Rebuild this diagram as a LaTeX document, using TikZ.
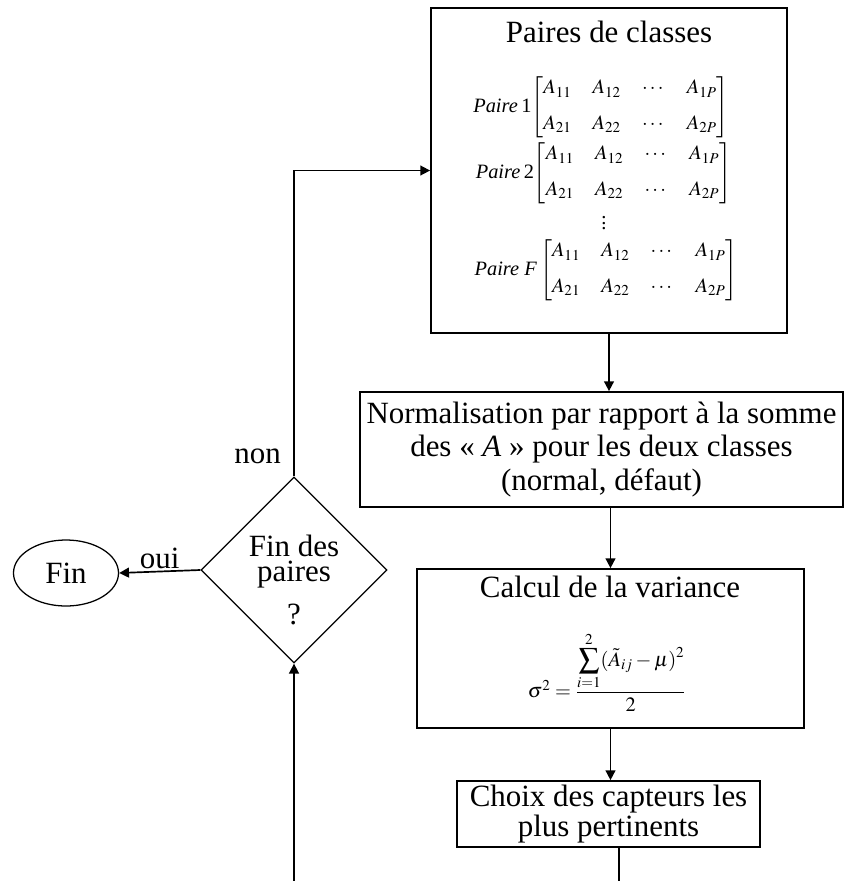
\documentclass[tikz,border=0pt]{standalone}
\usepackage{amsmath}
\usepackage{mathptmx}
\usepackage[no-math]{fontspec}
\setmainfont{Liberation Serif}
\usetikzlibrary{positioning,arrows.meta,calc,shapes.geometric}

\begin{document}
\begin{tikzpicture}[
  x=0.025cm, y=-0.025cm,
  every node/.style={font=\fontsize{22}{24}\selectfont, inner sep=0pt},
  %% framed process block  \node[blk={width}{height}]{...}
  blk/.style 2 args={
    draw, line width=1.2pt,
    minimum width=#1, minimum height=#2,
    align=center
  },
  %% small math inside the blocks
  mat/.style={font=\fontsize{14.5}{16}\selectfont},
  %% connectors
  arr/.style={-{Triangle[length=7pt,width=7pt]}, line width=1.2pt},
  lnk/.style={line width=1.2pt},
]
\useasboundingbox (0,0) rectangle (844,881);

%%── Paires de classes ────────────────────────────────────────────────────────
\node[blk={8.9cm}{8.125cm}] (pc) at (609,170.5) {};
\node (pct) at (609,32) {Paires de classes};

\node[mat] (m1) at (601,107)
  {{\itshape Paire}\,1$\arraycolsep=7.5pt
   \left[\begin{matrix}
     A_{11} & A_{12} & \cdots & A_{1P}\\[9pt]
     A_{21} & A_{22} & \cdots & A_{2P}
   \end{matrix}\right]$};
\node[mat] (m2) at (603.5,173)
  {{\itshape Paire}\,2$\arraycolsep=7.5pt
   \left[\begin{matrix}
     A_{11} & A_{12} & \cdots & A_{1P}\\[9pt]
     A_{21} & A_{22} & \cdots & A_{2P}
   \end{matrix}\right]$};
\node[mat] (vd) at (604,219) {$\vdots$};
\node[mat] (mF) at (606,270)
  {{\itshape Paire F}\,$\arraycolsep=7.5pt
   \left[\begin{matrix}
     A_{11} & A_{12} & \cdots & A_{1P}\\[9pt]
     A_{21} & A_{22} & \cdots & A_{2P}
   \end{matrix}\right]$};

%%── Normalisation ────────────────────────────────────────────────────────────
\node[blk={12.075cm}{2.875cm}] (nm) at (601.5,449.5)
  {Normalisation par rapport à la somme\\
   des « \textit{A} » pour les deux classes\\
   (normal, défaut)};

%%── Variance ─────────────────────────────────────────────────────────────────
\node[blk={9.675cm}{3.975cm}] (vr) at (610.5,648.5) {};
\node (vrt) at (610,587) {Calcul de la variance};
\node[mat] (vrf) at (607,672)
  {$\sigma^{2}=\displaystyle\frac{\displaystyle\sum_{i=1}^{2}(\tilde{A}_{ij}-\mu)^{2}}{2}$};

%%── Choix des capteurs ───────────────────────────────────────────────────────
\node[blk={7.575cm}{1.65cm}, font=\fontsize{22}{19}\selectfont] (ch)
  at (608.5,814) {Choix des capteurs les\\plus pertinents};

%%── Test and end ─────────────────────────────────────────────────────────────
\node[draw, diamond, aspect=1, line width=0.9pt,
      minimum width=4.65cm, minimum height=4.65cm] (fd) at (294,570) {};
\node[align=center, font=\fontsize{22}{18}\selectfont] (fdt) at (294,580)
  {Fin des\\paires\\[10pt]?};
\node[draw, ellipse, line width=0.9pt,
      minimum width=2.625cm, minimum height=1.65cm] (fin) at (66,573) {Fin};

%%── Arrows ───────────────────────────────────────────────────────────────────
\draw[arr] (pc.south) -- (pc.south |- nm.north);
\draw[arr] (vr.north |- nm.south) -- (vr.north);
\draw[arr] (vr.south) -- (vr.south |- ch.north);

\coordinate (chbot) at (619,881);
\coordinate (fdbot) at (294,881);
\draw[lnk] (ch.south -| chbot) -- (chbot);
\draw[arr] (fdbot) -- (fd.south);

\draw[arr] (fd.north) |- (pc.west);
\node[anchor=south east] (non) at ($(fd.north)+(-13,-12)$) {non};
\draw[arr] (fd.west) -- node[above=1pt] (oui) {oui} (fin.east);

\end{tikzpicture}
\end{document}
